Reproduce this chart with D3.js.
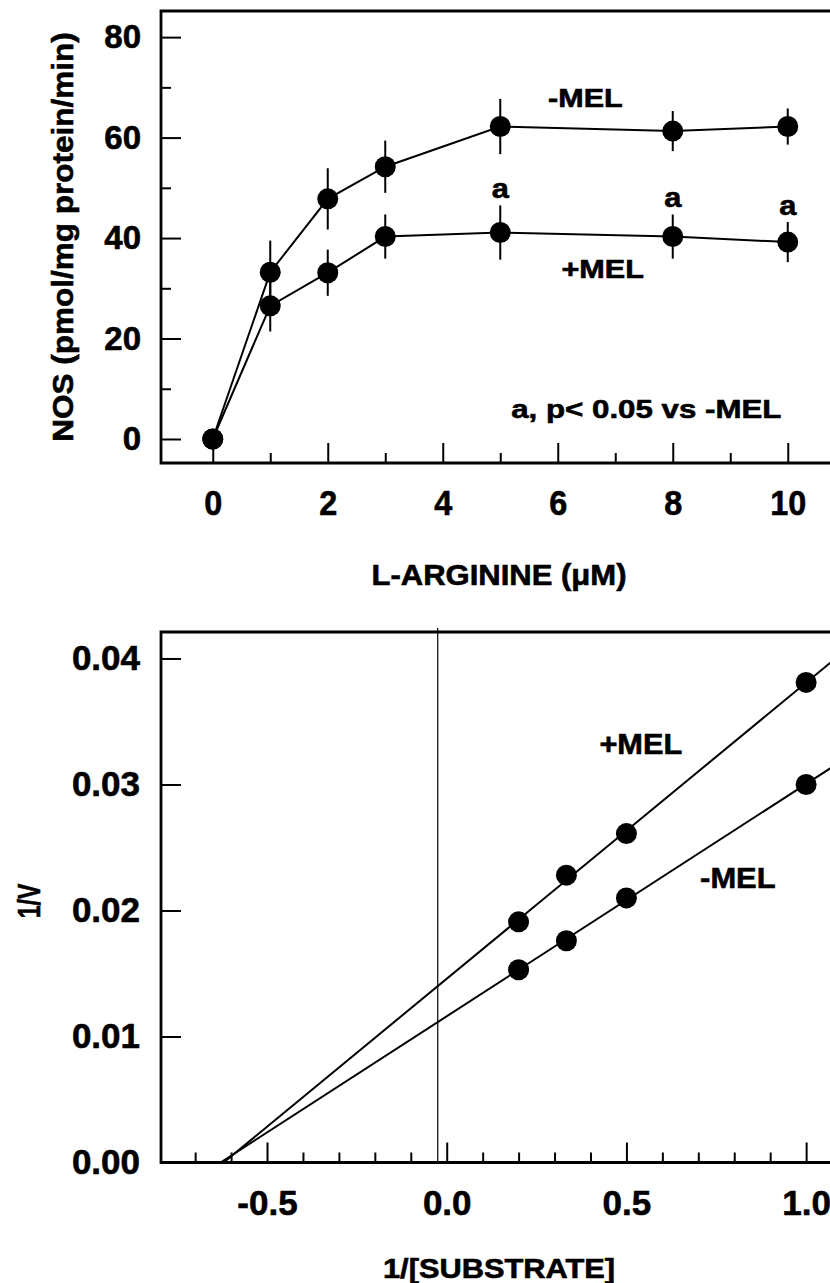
<!DOCTYPE html>
<html>
<head>
<meta charset="utf-8">
<script src="https://cdn.jsdelivr.net/npm/d3@7"></script>
<style>
  body { margin: 0; background: #fff; }
  svg text { font-family: "Liberation Sans", Arial, sans-serif; font-weight: bold; fill: #000; stroke: #000; stroke-width: 0.6px; }
</style>
</head>
<body>
<svg id="chart" width="830" height="1283"></svg>
<script>
// ---- top panel: NOS activity vs L-arginine ----
var argX = [0, 1, 2, 3, 5, 8, 10];
var minusMel = [0, 33.2, 47.8, 54.2, 62.2, 61.3, 62.2];
var minusMelErr = [0, 6.3, 6.1, 5.2, 5.5, 4.0, 3.6];
var plusMel = [0, 26.5, 33.1, 40.3, 41.1, 40.3, 39.2];
var plusMelErr = [0, 5.1, 4.6, 4.4, 5.4, 4.4, 4.0];
var sigX = [5, 8, 10];   // points marked "a"

var topXMajor = [0, 2, 4, 6, 8, 10];
var topXMinor = [1, 3, 5, 7, 9, 11];
var topYMajor = [0, 20, 40, 60, 80];
var topYMinor = [10, 30, 50, 70];

// ---- bottom panel: double reciprocal plot ----
var invS = [0.2, 0.333, 0.5, 1.0];
var invVPlus = [0.0191, 0.0228, 0.0261, 0.0381];
var invVMinus = [0.0153, 0.0176, 0.0210, 0.0300];
var refLineX = -0.025;

var botXMajor = [-0.5, 0, 0.5, 1.0];
var botXMinor = [-0.7, -0.6, -0.4, -0.3, -0.2, -0.1, 0.1, 0.2, 0.3, 0.4, 0.6, 0.7, 0.8, 0.9, 1.1];
var botYTicks = [0, 0.01, 0.02, 0.03, 0.04];

var svg = d3.select("#chart");

//helper for stretched labels (the scan is a bit wide)
function note(g, txt, px, py, size, sx, rot) {
  var t = "translate(" + px + "," + py + ")" + (rot ? " rotate(" + rot + ")" : "") + " scale(" + sx + ",1)";
  return g.append("text")
    .attr("transform", t)
    .attr("text-anchor", "middle")
    .style("font-size", size + "px")
    .text(txt);
}

function styleAxis(g, size) {
  g.select(".domain").remove();
  g.selectAll(".tick line").attr("stroke", "#000").attr("stroke-width", 2);
  g.selectAll("text").style("font-size", size + "px").attr("fill", "#000");
}

function frame(g, x, y) {
  var x0 = x.range()[0], x1 = x.range()[1], y0 = y.range()[0], y1 = y.range()[1];
  g.append("path")
    .attr("d", "M" + x1 + "," + y1 + "H" + x0 + "V" + y0 + "H" + x1)
    .attr("fill", "none")
    .attr("stroke", "#000")
    .attr("stroke-width", 2.8);
}

// ================= TOP =================
var xTop = d3.scaleLinear().domain([-0.9, 11.1]).range([161, 851]);
var yTop = d3.scaleLinear().domain([-4.78, 85.2]).range([463, 11]);
var topG = svg.append("g");

var gx = topG.append("g").attr("transform", "translate(0,463)")
  .call(d3.axisBottom(xTop).tickValues(topXMajor).tickSize(-20).tickPadding(26).tickFormat(d3.format("d")));
styleAxis(gx, 36);
gx.selectAll("text").attr("transform", "scale(0.9,1)");
var gx2 = topG.append("g").attr("transform", "translate(0,463)")
  .call(d3.axisBottom(xTop).tickValues(topXMinor).tickSize(-10).tickFormat(() => ""));
styleAxis(gx2, 10);

var gy = topG.append("g").attr("transform", "translate(161,0)")
  .call(d3.axisLeft(yTop).tickValues(topYMajor).tickSize(-20).tickPadding(20).tickFormat(d3.format("d")));
styleAxis(gy, 33);
var gy2 = topG.append("g").attr("transform", "translate(161,0)")
  .call(d3.axisLeft(yTop).tickValues(topYMinor).tickSize(-10).tickFormat(() => ""));
styleAxis(gy2, 10);

frame(topG, xTop, yTop);

var series = [
  { vals: minusMel, err: minusMelErr },
  { vals: plusMel, err: plusMelErr }
];

var line = d3.line()
  .x(d => xTop(d.x))
  .y(d => yTop(d.y));

series.forEach(function(s) {
  var pts = argX.map((xv, i) => ({ x: xv, y: s.vals[i], e: s.err[i] }));

  topG.append("path")
    .attr("d", line(pts))
    .attr("fill", "none")
    .attr("stroke", "#000")
    .attr("stroke-width", 2);

  topG.selectAll(null).data(pts).enter().append("line")
    .attr("x1", d => xTop(d.x)).attr("x2", d => xTop(d.x))
    .attr("y1", d => yTop(d.y - d.e)).attr("y2", d => yTop(d.y + d.e))
    .attr("stroke", "#000")
    .attr("stroke-width", 2);

  topG.selectAll(null).data(pts).enter().append("circle")
    .attr("cx", d => xTop(d.x))
    .attr("cy", d => yTop(d.y))
    .attr("r", 10.5)
    .attr("fill", "#000");
});

//significance marks above the +MEL error bars
sigX.forEach(function(sx) {
  var i = argX.indexOf(sx);
  note(topG, "a", xTop(sx), yTop(plusMel[i] + plusMelErr[i]) - 7, 28, 1.1);
});

note(topG, "-MEL", xTop(6.48), yTop(66.1), 25, 1.22);
note(topG, "+MEL", xTop(6.78), yTop(32.0), 25.5, 1.2);
note(topG, "a, p< 0.05 vs -MEL", xTop(7.54), yTop(4.1), 26.5, 1.18);

note(topG, "L-ARGININE (\u03bcM)", 499, 585, 29, 1.07);
note(topG, "NOS (pmol/mg protein/min)", 73, 237, 30, 1.05, -90);

// ================= BOTTOM =================
var xBot = d3.scaleLinear().domain([-0.795, 1.2]).range([161, 878]);
var yBot = d3.scaleLinear().domain([0, 0.0421]).range([1162.5, 632]);
var botG = svg.append("g");

var bx = botG.append("g").attr("transform", "translate(0,1162.5)")
  .call(d3.axisBottom(xBot).tickValues(botXMajor).tickSize(-20).tickPadding(28).tickFormat(d => d.toFixed(1)));
styleAxis(bx, 35);
var bx2 = botG.append("g").attr("transform", "translate(0,1162.5)")
  .call(d3.axisBottom(xBot).tickValues(botXMinor).tickSize(-10).tickFormat(() => ""));
styleAxis(bx2, 10);

var by = botG.append("g").attr("transform", "translate(161,0)")
  .call(d3.axisLeft(yBot).tickValues(botYTicks).tickSize(-20).tickPadding(21).tickFormat(d => d.toFixed(2)));
styleAxis(by, 35);

//thin vertical reference line
botG.append("line")
  .attr("x1", xBot(refLineX)).attr("x2", xBot(refLineX))
  .attr("y1", yBot.range()[1] - 4).attr("y2", yBot(0))
  .attr("stroke", "#000")
  .attr("stroke-width", 1.2);

frame(botG, xBot, yBot);

botG.append("clipPath").attr("id", "botClip")
  .append("rect")
  .attr("x", xBot.range()[0]).attr("y", yBot.range()[1])
  .attr("width", xBot.range()[1] - xBot.range()[0])
  .attr("height", yBot.range()[0] - yBot.range()[1]);

//least squares fit, extended down to the x intercept
function fit(xs, ys) {
  var mx = d3.mean(xs), my = d3.mean(ys);
  var sxy = d3.sum(xs, (v, i) => (v - mx) * (ys[i] - my));
  var sxx = d3.sum(xs, v => (v - mx) * (v - mx));
  var b = sxy / sxx;
  return { slope: b, icpt: my - b * mx };
}

var lineBot = d3.line()
  .x(d => xBot(d[0]))
  .y(d => yBot(d[1]));

[invVPlus, invVMinus].forEach(function(ys) {
  var f = fit(invS, ys);
  var xStart = -f.icpt / f.slope;
  var xEnd = xBot.domain()[1];
  botG.append("path")
    .attr("clip-path", "url(#botClip)")
    .attr("d", lineBot([[xStart, 0], [xEnd, f.icpt + f.slope * xEnd]]))
    .attr("fill", "none")
    .attr("stroke", "#000")
    .attr("stroke-width", 2);

  botG.selectAll(null).data(invS).enter().append("circle")
    .attr("cx", d => xBot(d))
    .attr("cy", (d, i) => yBot(ys[i]))
    .attr("r", 10.5)
    .attr("fill", "#000");
});

note(botG, "+MEL", xBot(0.54), yBot(0.0324), 29, 1.06);
note(botG, "-MEL", xBot(0.81), yBot(0.02177), 30, 1.03);

note(botG, "1/[SUBSTRATE]", 499, 1278, 28, 1.1);
note(botG, "1/V", 40, 901, 32, 0.72, -90);
</script>
</body>
</html>
